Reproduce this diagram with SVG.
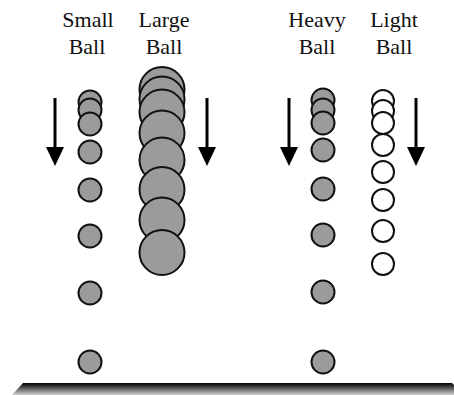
<svg xmlns="http://www.w3.org/2000/svg" width="454" height="395" viewBox="0 0 454 395">
<defs>
<style>
.lbl{font-family:'Liberation Serif','Times New Roman',serif;font-size:22px;fill:#111;text-anchor:middle}
.g{fill:#9b9b9b;stroke:#111;stroke-width:2}
.w{fill:#fff;stroke:#111;stroke-width:2}
.arr{stroke:#000;stroke-width:3}
</style>
<linearGradient id="gr" x1="0" y1="0" x2="0" y2="1">
<stop offset="0" stop-color="#000"/>
<stop offset="0.25" stop-color="#333"/>
<stop offset="1" stop-color="#d0d0d0"/>
</linearGradient>
</defs>
<rect width="454" height="395" fill="#fff"/>
<g id="labels" class="lbl">
<text x="88" y="27">Small</text><text x="87" y="54">Ball</text>
<text x="164" y="27">Large</text><text x="164" y="54">Ball</text>
<text x="317" y="27">Heavy</text><text x="317" y="54">Ball</text>
<text x="394" y="27">Light</text><text x="394" y="54">Ball</text>
</g>
<g id="small-ball">
<circle class="g" cx="90" cy="102" r="11.5"/>
<circle class="g" cx="90" cy="110" r="11.5"/>
<circle class="g" cx="90" cy="124" r="11.5"/>
<circle class="g" cx="90" cy="152" r="11.5"/>
<circle class="g" cx="90" cy="190" r="11.5"/>
<circle class="g" cx="90" cy="236" r="11.5"/>
<circle class="g" cx="90" cy="293" r="11.5"/>
<circle class="g" cx="90" cy="362" r="11.5"/>
</g>
<g id="large-ball">
<circle class="g" cx="162" cy="89.5" r="22.5"/>
<circle class="g" cx="162" cy="99" r="22.5"/>
<circle class="g" cx="162" cy="112" r="22.5"/>
<circle class="g" cx="162" cy="133" r="22.5"/>
<circle class="g" cx="162" cy="160" r="22.5"/>
<circle class="g" cx="162" cy="189.5" r="22.5"/>
<circle class="g" cx="162" cy="220" r="22.5"/>
<circle class="g" cx="162" cy="252.5" r="22.5"/>
</g>
<g id="heavy-ball">
<circle class="g" cx="323" cy="100" r="11.5"/>
<circle class="g" cx="323" cy="110" r="11.5"/>
<circle class="g" cx="323" cy="123" r="11.5"/>
<circle class="g" cx="323" cy="150" r="11.5"/>
<circle class="g" cx="323" cy="189" r="11.5"/>
<circle class="g" cx="323" cy="235" r="11.5"/>
<circle class="g" cx="323" cy="292" r="11.5"/>
<circle class="g" cx="323" cy="362" r="11.5"/>
</g>
<g id="light-ball">
<circle class="w" cx="383" cy="101" r="11"/>
<circle class="w" cx="383" cy="111" r="11"/>
<circle class="w" cx="383" cy="123" r="11"/>
<circle class="w" cx="383" cy="145" r="11"/>
<circle class="w" cx="383" cy="172" r="11"/>
<circle class="w" cx="383" cy="200" r="11"/>
<circle class="w" cx="383" cy="231" r="11"/>
<circle class="w" cx="383" cy="264" r="11"/>
</g>
<g id="arrows">
<line class="arr" x1="55" y1="98" x2="55" y2="150"/><polygon points="46,147 64,147 55,166"/>
<line class="arr" x1="207" y1="98" x2="207" y2="150"/><polygon points="198,147 216,147 207,166"/>
<line class="arr" x1="289" y1="98" x2="289" y2="150"/><polygon points="280,147 298,147 289,166"/>
<line class="arr" x1="416" y1="98" x2="416" y2="150"/><polygon points="407,147 425,147 416,166"/>
</g>
<g id="ground">
<polygon points="23,383 452,383 454,385 454,395 12,395" fill="url(#gr)"/>
</g>
</svg>
